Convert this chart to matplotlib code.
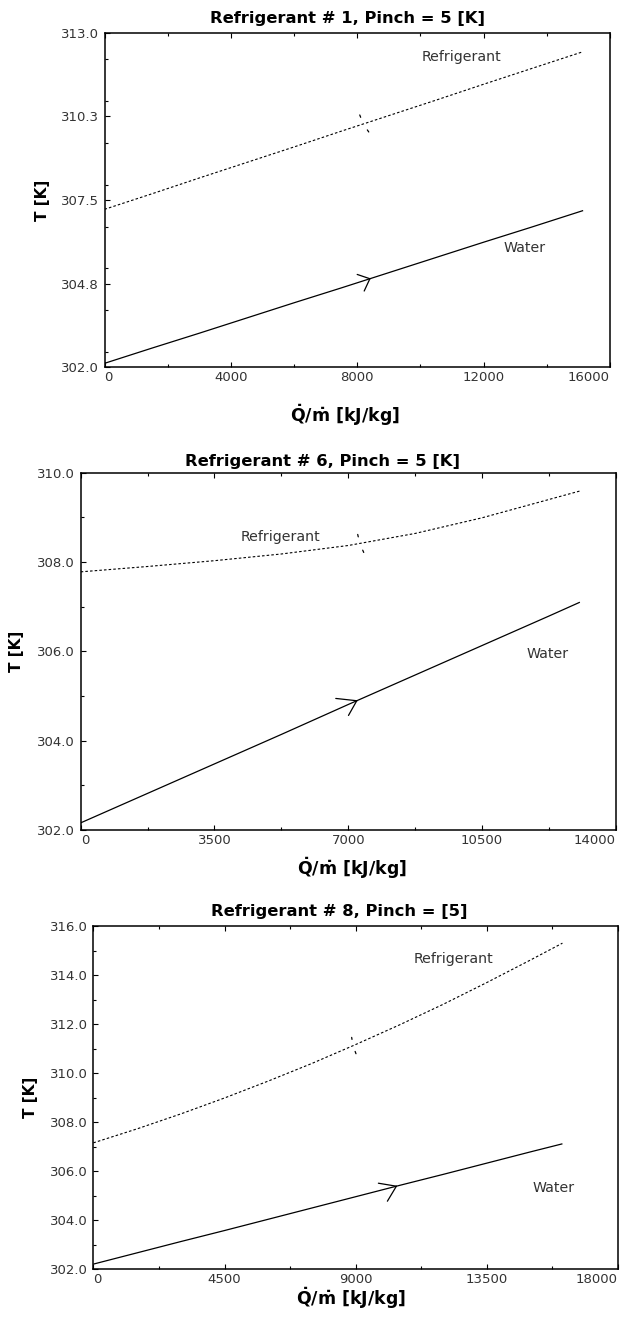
import numpy as np
import matplotlib
matplotlib.use("Agg")
import matplotlib.pyplot as plt
from matplotlib.ticker import FixedLocator, MultipleLocator

plt.rcParams["font.family"] = ["DejaVu Sans"]
plt.rcParams["mathtext.fontset"] = "dejavusans"

# ---------------- data ----------------
# Refrigerant # 1
q1 = [0, 1500, 3000, 4500, 6000, 7500, 9000, 10500, 12000, 13500, 15150]
t_ref1 = [307.19, 307.70, 308.22, 308.73, 309.24, 309.76, 310.27, 310.78, 311.30, 311.81, 312.37]
t_wat1 = [302.13, 302.63, 303.12, 303.62, 304.12, 304.61, 305.11, 305.61, 306.11, 306.60, 307.15]
xticks1 = [0, 4000, 8000, 12000, 16000]
yticks1 = [302.0, 304.75, 307.5, 310.25, 313.0]
ylabels1 = ["302.0", "304.8", "307.5", "310.3", "313.0"]

# Refrigerant # 6
q2 = [0, 1750, 3500, 5250, 7000, 8750, 10500, 12250, 13060]
t_ref2 = [307.78, 307.90, 308.03, 308.18, 308.37, 308.64, 308.99, 309.40, 309.59]
t_wat2 = [302.16, 302.82, 303.48, 304.14, 304.81, 305.47, 306.13, 306.79, 307.10]
xticks2 = [0, 3500, 7000, 10500, 14000]
yticks2 = [302.0, 304.0, 306.0, 308.0, 310.0]
ylabels2 = ["302.0", "304.0", "306.0", "308.0", "310.0"]

# Refrigerant # 8
q3 = [0, 1500, 3000, 4500, 6000, 7500, 9000, 10500, 12000, 13500, 15000, 16100]
t_ref3 = [307.15, 307.72, 308.33, 308.98, 309.67, 310.39, 311.16, 311.96, 312.80, 313.69, 314.61, 315.30]
t_wat3 = [302.20, 302.66, 303.12, 303.57, 304.03, 304.49, 304.95, 305.41, 305.86, 306.32, 306.78, 307.11]
xticks3 = [0, 4500, 9000, 13500, 18000]
yticks3 = [302.0, 304.0, 306.0, 308.0, 310.0, 312.0, 314.0, 316.0]
ylabels3 = ["302.0", "304.0", "306.0", "308.0", "310.0", "312.0", "314.0", "316.0"]

titles = ["Refrigerant # 1, Pinch = 5 [K]",
          "Refrigerant # 6, Pinch = 5 [K]",
          "Refrigerant # 8, Pinch = [5]"]

# ---------------- layout (pixels) ----------------
W, H, DPI = 623, 1323, 100
fig = plt.figure(figsize=(W / DPI, H / DPI), dpi=DPI)
fig.patch.set_facecolor("white")

TXT = "#333333"


def fx(x):
    return x / W


def fy(y):
    return 1 - y / H


def wing_pair(ax, x, y, offsets, gaps, ls="-"):
    for (dx, dy), g in zip(offsets, gaps):
        ax.annotate("", xy=(x, y), xytext=(dx, dy), textcoords="offset pixels",
                    arrowprops=dict(arrowstyle="-", lw=0.9, color="black",
                                    shrinkA=0, shrinkB=g, linestyle=ls))


panels = [
    dict(q=q1, tr=t_ref1, tw=t_wat1, xt=xticks1, yt=yticks1, yl=ylabels1,
         xminor=2000, ybox=(104.5, 32.5, 610.0, 367.3), title=(347.6, 18.3),
         xlab=(345.0, 415.0), ylab_x=43.0,
         rlab=(11306, 312.2), wlab=(13300, 305.92),
         warrow=8400, wwings=[(-12.7, 4.3), (-5.7, -12.3)],
         rarrow=8190, rwings=[(-3.5, 9.0), (5.5, -8.0)]),
    dict(q=q2, tr=t_ref2, tw=t_wat2, xt=xticks2, yt=yticks2, yl=ylabels2,
         xminor=1750, ybox=(80.7, 472.7, 615.8, 830.0), title=(322.8, 461.7),
         xlab=(351.6, 868.0), ylab_x=17.0,
         rlab=(5215, 308.55), wlab=(12226, 305.95),
         warrow=7223, wwings=[(-21.0, 2.3), (-8.3, -14.7)],
         rarrow=7300, rwings=[(-2.0, 9.0), (4.0, -9.0)]),
    dict(q=q3, tr=t_ref3, tw=t_wat3, xt=xticks3, yt=yticks3, yl=ylabels3,
         xminor=2250, ybox=(93.4, 926.0, 617.8, 1269.0), title=(339.7, 911.7),
         xlab=(350.6, 1298.0), ylab_x=30.0,
         rlab=(12360, 314.65), wlab=(15800, 305.3),
         warrow=10400, wwings=[(-18.0, 3.0), (-9.0, -15.0)],
         rarrow=8910, rwings=[(-1.3, 8.3), (3.0, -8.0)]),
]

for i, p in enumerate(panels):
    l, t, r, b = p["ybox"]
    ax = fig.add_axes([fx(l), fy(b), (r - l) / W, (b - t) / H])
    ax.set_facecolor("white")

    ax.plot(p["q"], p["tw"], color="black", lw=0.9, solid_capstyle="butt")
    ax.plot(p["q"], p["tr"], color="black", lw=0.8, linestyle=(0, (2.3, 1.9)))

    ax.set_xlim(p["xt"][0], p["xt"][-1])
    ax.set_ylim(p["yt"][0], p["yt"][-1])

    ax.xaxis.set_major_locator(FixedLocator(p["xt"]))
    ax.xaxis.set_minor_locator(MultipleLocator(p["xminor"]))
    ax.yaxis.set_major_locator(FixedLocator(p["yt"]))
    ystep = p["yt"][1] - p["yt"][0]
    ax.yaxis.set_minor_locator(MultipleLocator(ystep / 2))

    ax.tick_params(axis="both", which="both", direction="in", colors="black",
                   labelcolor=TXT, labelsize=9.5, width=0.8)
    ax.tick_params(axis="x", which="both", top=True, bottom=True)
    ax.tick_params(axis="y", which="both", left=True, right=False)
    ax.tick_params(axis="both", which="major", length=3.3)
    ax.tick_params(axis="both", which="minor", length=2.2)
    ax.tick_params(axis="x", which="major", pad=3)
    ax.tick_params(axis="y", which="major", pad=4)

    xl = ax.set_xticklabels([str(v) for v in p["xt"]])
    xl[0].set_ha("left")
    xl[-1].set_ha("right")
    ax.set_yticklabels(p["yl"])

    for s in ax.spines.values():
        s.set_linewidth(1.1)
        s.set_color("black")

    # flow direction marks
    tw = float(np.interp(p["warrow"], p["q"], p["tw"]))
    wing_pair(ax, p["warrow"], tw, p["wwings"], [0, 0])
    tr = float(np.interp(p["rarrow"], p["q"], p["tr"]))
    wing_pair(ax, p["rarrow"], tr, p["rwings"], [4.6, 4.4], ls=(0, (2.0, 1.5)))

    ax.text(p["rlab"][0], p["rlab"][1], "Refrigerant", fontsize=10.2,
            color=TXT, ha="center", va="center")
    ax.text(p["wlab"][0], p["wlab"][1], "Water", fontsize=10.2,
            color=TXT, ha="center", va="center")

    fig.text(fx(p["title"][0]), fy(p["title"][1]), titles[i], fontsize=11.8,
             fontweight="bold", color="black", ha="center", va="center")
    fig.text(fx(p["xlab"][0]), fy(p["xlab"][1]),
             r"$\mathbf{\dot{Q}/\dot{m}}$ [kJ/kg]", fontsize=12.5,
             fontweight="bold", color="black", ha="center", va="center")
    fig.text(fx(p["ylab_x"]), fy((t + b) / 2), "T [K]", fontsize=11,
             fontweight="bold", color="black", ha="center", va="center",
             rotation=90)

fig.savefig("out.png", dpi=DPI, facecolor="white")
